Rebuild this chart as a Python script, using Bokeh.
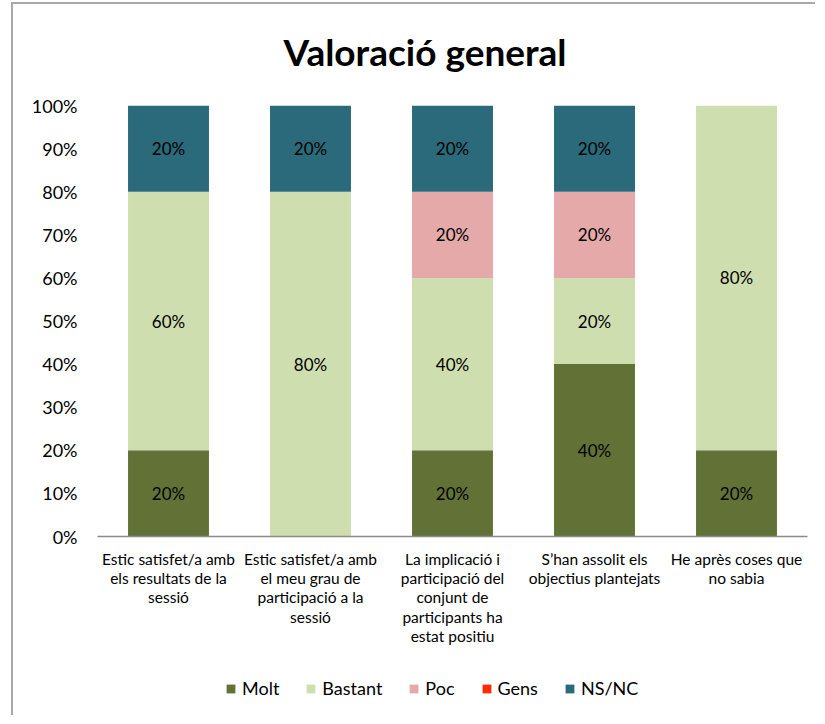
from bokeh.plotting import figure
from bokeh.layouts import column
from bokeh.models import ColumnDataSource, FactorRange, Range1d, FixedTicker, PrintfTickFormatter, Legend, LegendItem, Label
from bokeh.core.properties import value
from bokeh.embed import file_html
from bokeh.resources import INLINE

title_text = "Valoració general"
categories = [
    "Estic satisfet/a amb\nels resultats de la\nsessió",
    "Estic satisfet/a amb\nel meu grau de\nparticipació a la\nsessió",
    "La implicació i\nparticipació del\nconjunt de\nparticipants ha\nestat positiu",
    "S’han assolit els\nobjectius plantejats",
    "He après coses que\nno sabia",
]
series_names = ["Molt", "Bastant", "Poc", "Gens", "NS/NC"]
molt = [20, 0, 20, 40, 20]
bastant = [60, 80, 40, 20, 80]
poc = [0, 0, 20, 20, 0]
gens = [0, 0, 0, 0, 0]
nsnc = [20, 20, 20, 20, 0]
y_ticks = [0, 10, 20, 30, 40, 50, 60, 70, 80, 90, 100]
colors = ["#627236", "#cfdeaf", "#e4a9a8", "#ff2a00", "#2a6a7a"]

FONT = "Lato"

def strip(height):
    f = figure(width=802, height=height, x_range=Range1d(0, 1), y_range=Range1d(0, 1),
               output_backend="svg", toolbar_location=None, x_axis_location=None, y_axis_location=None,
               min_border_left=84, min_border_right=8, min_border_top=0, min_border_bottom=0)
    f.xgrid.visible = False
    f.ygrid.visible = False
    f.outline_line_color = None
    return f

# title strip
tf = strip(80)
tf.add_layout(Label(x=0.4613, y=0.4125, text=title_text, text_align="center", text_baseline="alphabetic",
                    text_font=FONT, text_font_size="37px", text_font_style="bold", text_color="#000000"))

data = {"cat": categories}
for name, vals in zip(series_names, [molt, bastant, poc, gens, nsnc]):
    data[name] = vals
source = ColumnDataSource(data)

p = figure(x_range=FactorRange(*categories, range_padding=0), y_range=Range1d(0, 100),
           width=802, height=580, output_backend="svg", toolbar_location=None,
           min_border_left=84, min_border_right=8, min_border_top=21, min_border_bottom=128)

renderers = p.vbar_stack(series_names, x="cat", width=0.57, color=colors, source=source, line_width=0)

# segment labels
lx, ly, lt = [], [], []
bottoms = [0] * len(categories)
for vals in [molt, bastant, poc, gens, nsnc]:
    for i, v in enumerate(vals):
        if v > 0:
            lx.append(categories[i])
            ly.append(bottoms[i] + v / 2)
            lt.append(f"{v}%")
        bottoms[i] += v
p.text(x=lx, y=ly, text=lt, text_align="center", text_baseline="middle",
       text_font=value(FONT), text_font_size="17px", text_color="#000000")

p.xgrid.visible = False
p.ygrid.visible = False
p.outline_line_color = None

p.yaxis.ticker = FixedTicker(ticks=y_ticks)
p.yaxis.formatter = PrintfTickFormatter(format="%d%%")
p.yaxis.axis_line_color = None
p.yaxis.major_tick_line_color = None
p.yaxis.minor_tick_line_color = None
p.yaxis.major_label_text_font = FONT
p.yaxis.major_label_text_font_size = "18px"
p.yaxis.major_label_text_color = "#000000"
p.yaxis.major_label_standoff = 14

p.xaxis.axis_line_color = "#8c8c8c"
p.xaxis.axis_line_width = 1.5
p.xaxis.major_tick_line_color = None
p.xaxis.minor_tick_line_color = None
p.xaxis.major_label_text_font = FONT
p.xaxis.major_label_text_font_size = "15.5px"
p.xaxis.major_label_text_line_height = 1.08
p.xaxis.major_label_text_color = "#000000"
p.xaxis.major_label_standoff = 7
p.xaxis.major_label_orientation = "horizontal"

# legend strip below the chart
lf = strip(51)
swatch = ColumnDataSource({"x": [0.5], "top": [0]})
leg_renderers = [lf.vbar(x="x", top="top", width=0.01, fill_color=c, line_color=c, line_alpha=0, source=swatch)
                 for c in colors]
legend = Legend(items=[LegendItem(label=n, renderers=[r]) for n, r in zip(series_names, leg_renderers)],
                orientation="horizontal", location=(128, 16),
                label_text_font=FONT, label_text_font_size="18px", label_text_color="#000000",
                glyph_width=11, glyph_height=11, spacing=26, label_standoff=6,
                border_line_color=None, background_fill_alpha=0, padding=0, margin=0)
lf.add_layout(legend)

layout = column(tf, p, lf, spacing=0,
                styles={"margin-left": "11px", "margin-top": "2px",
                        "border-left": "2px solid #a9a9a9", "border-top": "2px solid #a9a9a9"})
open("out.html", "w").write(file_html(layout, INLINE))
